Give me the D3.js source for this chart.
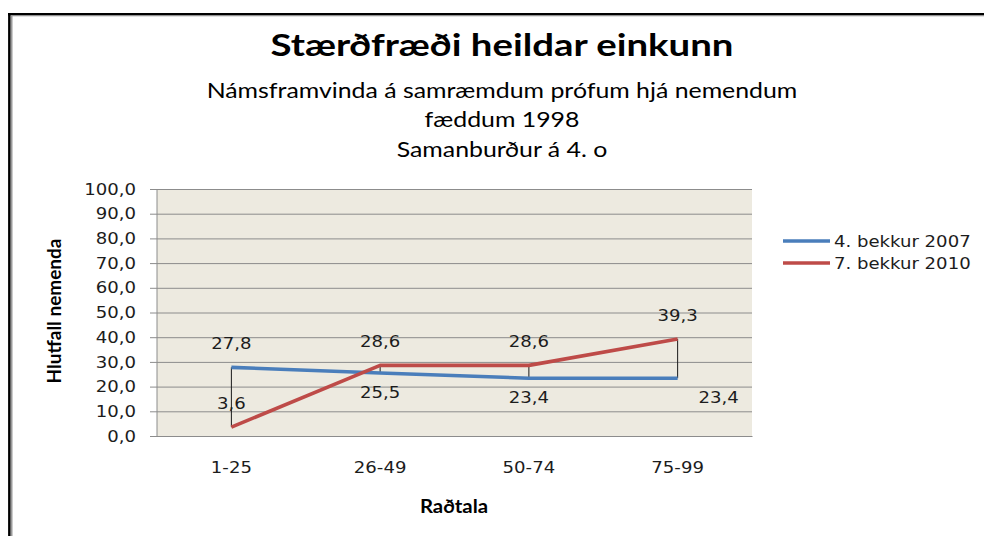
<!DOCTYPE html>
<html>
<head>
<meta charset="utf-8">
<script src="https://cdn.jsdelivr.net/npm/d3@7"></script>
<style>
  html, body { margin: 0; padding: 0; background: #fff; }
  svg { display: block; }
</style>
</head>
<body>
<div id="chart"></div>
<script>
// data
const categories = ["1-25", "26-49", "50-74", "75-99"];
const series2007 = [27.8, 25.5, 23.4, 23.4];
const series2010 = [3.6, 28.6, 28.6, 39.3];
const yTicks = [0, 10, 20, 30, 40, 50, 60, 70, 80, 90, 100];
const seriesNames = ["4. bekkur 2007", "7. bekkur 2010"];
const titleText = "Stærðfræði heildar einkunn";
const subtitleLines = ["Námsframvinda á samræmdum prófum hjá nemendum", "fæddum 1998", "Samanburður á 4. o"];

const width = 984, height = 536;
const plot = { left: 157, right: 752, top: 189, bottom: 436 };
const colors = ["#4A7EBB", "#BE4B48"];
const textColor = "#1c1c1c";
const fmt = v => d3.format(".1f")(v).replace(".", ",");

const svg = d3.select("#chart").append("svg")
    .attr("width", width)
    .attr("height", height);

// outer frame (top + left edges only visible)
svg.append("line").attr("x1", 8).attr("x2", width).attr("y1", 14.3).attr("y2", 14.3)
    .attr("stroke", "#000").attr("stroke-width", 2.4);
svg.append("line").attr("x1", 9.4).attr("x2", 9.4).attr("y1", 13).attr("y2", height)
    .attr("stroke", "#000").attr("stroke-width", 2.6);
svg.append("line").attr("x1", 10.7).attr("x2", width).attr("y1", 15.8).attr("y2", 15.8)
    .attr("stroke", "#9a9a9a").attr("stroke-width", 1);
svg.append("line").attr("x1", 11.6).attr("x2", 11.6).attr("y1", 15.5).attr("y2", height)
    .attr("stroke", "#9a9a9a").attr("stroke-width", 1.8);

// titles
svg.append("text")
    .attr("x", 502).attr("y", 56)
    .attr("text-anchor", "middle")
    .attr("font-family", "Lato, 'Open Sans', sans-serif")
    .attr("font-weight", "bold")
    .attr("font-size", "31px")
    .attr("fill", "#000")
    .attr("textLength", 463)
    .attr("lengthAdjust", "spacingAndGlyphs")
    .text(titleText);

const subY = [98, 127, 157];
subtitleLines.forEach((line, i) => {
    svg.append("text")
        .attr("x", 502).attr("y", subY[i])
        .attr("text-anchor", "middle")
        .attr("font-family", "Lato, 'Open Sans', sans-serif")
        .attr("font-size", "22px")
        .attr("fill", "#000")
        .attr("class", "stretch")
        .text(line);
});

// scales
const x = d3.scaleBand().domain(categories).range([plot.left, plot.right]);
const cx = c => x(c) + x.bandwidth() / 2;
const y = d3.scaleLinear().domain([0, 100]).range([plot.bottom, plot.top]);

// plot background
svg.append("rect")
    .attr("x", plot.left).attr("y", plot.top)
    .attr("width", plot.right - plot.left).attr("height", plot.bottom - plot.top)
    .attr("fill", "#EDEAE0");

// y axis with gridlines
const yAxis = svg.append("g")
    .attr("transform", `translate(${plot.left},0)`)
    .call(d3.axisLeft(y).tickValues(yTicks).tickFormat(fmt)
        .tickSizeInner(-(plot.right - plot.left)).tickSizeOuter(0).tickPadding(21));
yAxis.select(".domain").remove();
yAxis.selectAll(".tick line")
    .attr("x1", -7)
    .attr("stroke", "#8c8c8c").attr("stroke-width", 1);
yAxis.selectAll(".tick text")
    .attr("font-family", "'DejaVu Sans', Verdana, sans-serif")
    .attr("font-size", "16px")
    .attr("fill", textColor)
    .attr("class", "stretch");

svg.append("line")
    .attr("x1", plot.left).attr("x2", plot.left)
    .attr("y1", plot.top).attr("y2", plot.bottom)
    .attr("stroke", "#8c8c8c");

// x axis
const xAxis = svg.append("g")
    .attr("transform", `translate(0,${plot.bottom})`)
    .call(d3.axisBottom(x).tickSize(0).tickPadding(26));
xAxis.select(".domain").attr("stroke", "#8c8c8c");
xAxis.selectAll(".tick text")
    .attr("font-family", "'DejaVu Sans', Verdana, sans-serif")
    .attr("font-size", "16px")
    .attr("fill", textColor)
    .attr("class", "stretch");

// axis titles
svg.append("text")
    .attr("x", 454).attr("y", 513)
    .attr("text-anchor", "middle")
    .attr("font-family", "Lato, 'Open Sans', sans-serif")
    .attr("font-weight", "bold")
    .attr("font-size", "18px")
    .attr("fill", "#000")
    .attr("class", "stretch")
    .text("Raðtala");

svg.append("text")
    .attr("transform", "translate(61,311) rotate(-90)")
    .attr("text-anchor", "middle")
    .attr("font-family", "Lato, 'Open Sans', sans-serif")
    .attr("font-weight", "bold")
    .attr("font-size", "19px")
    .attr("fill", "#000")
    .text("Hlutfall nemenda");

// high-low lines
svg.append("g").selectAll("line")
    .data(categories)
    .join("line")
    .attr("x1", cx).attr("x2", cx)
    .attr("y1", (d, i) => y(series2007[i]))
    .attr("y2", (d, i) => y(series2010[i]))
    .attr("stroke", "#1a1a1a").attr("stroke-width", 1);

// lines
const line = d3.line().x((d, i) => cx(categories[i])).y(d => y(d));
[series2007, series2010].forEach((s, k) => {
    svg.append("path")
        .datum(s)
        .attr("d", line)
        .attr("fill", "none")
        .attr("stroke", colors[k])
        .attr("stroke-width", 3.6)
        .attr("stroke-linejoin", "round");
});

// data labels
const labelSide2007 = ["above", "below", "below", "right"];
const labels = [];
series2007.forEach((v, i) => labels.push({ v, i, side: labelSide2007[i] }));
series2010.forEach((v, i) => labels.push({ v, i, side: "above" }));
svg.append("g").selectAll("text")
    .data(labels)
    .join("text")
    .attr("x", d => cx(categories[d.i]) + (d.side === "right" ? 41 : 0))
    .attr("y", d => y(d.v) + (d.side === "above" ? -18 : 25))
    .attr("text-anchor", "middle")
    .attr("font-family", "'DejaVu Sans', Verdana, sans-serif")
    .attr("font-size", "16px")
    .attr("fill", textColor)
    .attr("class", "stretch")
    .text(d => fmt(d.v));

// legend
const legend = svg.append("g").attr("transform", "translate(783,241)");
seriesNames.forEach((name, i) => {
    const g = legend.append("g").attr("transform", `translate(0,${i * 22})`);
    g.append("line").attr("x1", 0).attr("x2", 47)
        .attr("stroke", colors[i]).attr("stroke-width", 3.6);
    g.append("text").attr("x", 51).attr("y", 6)
        .attr("font-family", "'DejaVu Sans', Verdana, sans-serif")
        .attr("font-size", "16px")
        .attr("fill", textColor)
        .attr("class", "stretch")
        .text(name);
});

// the reference is slightly stretched horizontally
svg.selectAll("text.stretch").each(function () {
    const w = this.getComputedTextLength();
    d3.select(this).attr("textLength", w * 1.13).attr("lengthAdjust", "spacingAndGlyphs");
});
</script>
</body>
</html>
